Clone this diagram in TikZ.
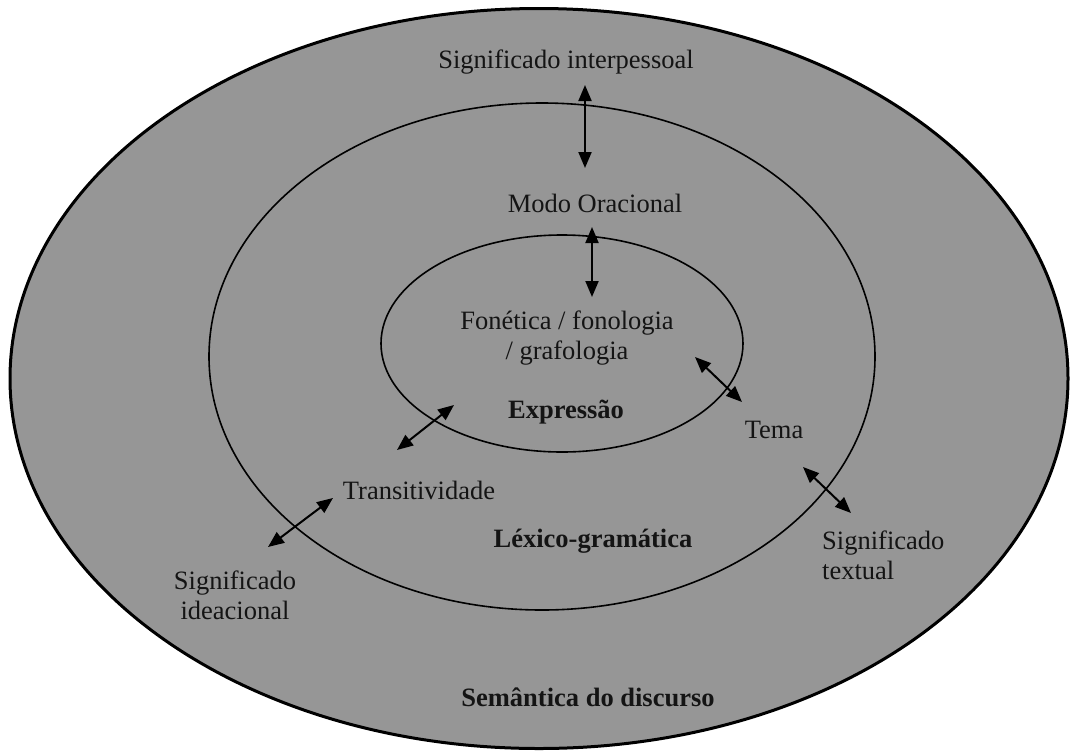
\documentclass[tikz,border=0pt]{standalone}
\usepackage{fontspec}
\setmainfont{Liberation Serif}
\usetikzlibrary{arrows.meta}
\definecolor{cinza}{RGB}{150,150,150}
\definecolor{texto}{RGB}{20,20,20}
\tikzset{
  rotulo/.style={font=\fontsize{26.5}{30}\selectfont, text=texto, align=center, inner sep=0pt},
  negrito/.style={rotulo, font=\fontsize{26.5}{30}\selectfont\bfseries},
  seta/.style={{Triangle[length=16pt,width=13pt]}-{Triangle[length=16pt,width=13pt]}, line width=2pt},
}
\begin{document}
\begin{tikzpicture}[x=1pt,y=-1pt]
    \useasboundingbox (0,0) rectangle (1070,753);
    \fill[white] (0,0) rectangle (1070,753);
            % as tres camadas
            \draw[line width=3pt,fill=cinza] (539,378.5) ellipse [x radius=529pt, y radius=370pt];
            \draw[line width=1.6pt] (542,356.5) ellipse [x radius=333pt, y radius=253.5pt];
            \draw[line width=1.6pt] (562,343.5) ellipse [x radius=181pt, y radius=108.5pt];
            % rotulos
            \node[rotulo] (interp) at (566,62) {Significado interpessoal};
            \node[rotulo] (modo) at (595,203) {Modo Oracional};
            \node[rotulo] (fonetica) at (567,338) {Fonética / fonologia\\/ grafologia};
            \node[negrito] (expr) at (566,412) {Expressão};
            \node[rotulo] (tema) at (774,430) {Tema};
            \node[rotulo] (trans) at (419,490) {Transitividade};
            \node[negrito] (lexico) at (593,541) {Léxico-gramática};
            \node[rotulo,align=left,anchor=west] (textual) at (822,555) {Significado\\textual};
            \node[rotulo] (ideac) at (235,595) {Significado\\ideacional};
            \node[negrito] (sem) at (588,697) {Semântica do discurso};
            % pontas das setas
            \coordinate (a1) at (585,85);  \coordinate (b1) at (585,168);
            \coordinate (a2) at (592,227); \coordinate (b2) at (592,297);
            \coordinate (a3) at (397,450); \coordinate (b3) at (454,405);
            \coordinate (a4) at (695,357); \coordinate (b4) at (742,402);
            \coordinate (a5) at (268,547); \coordinate (b5) at (333,498);
            \coordinate (a6) at (803,467); \coordinate (b6) at (851,513);
            \foreach \i in {1,...,6}
                \draw[seta] (a\i) -- (b\i);
        \end{tikzpicture}
\end{document}
